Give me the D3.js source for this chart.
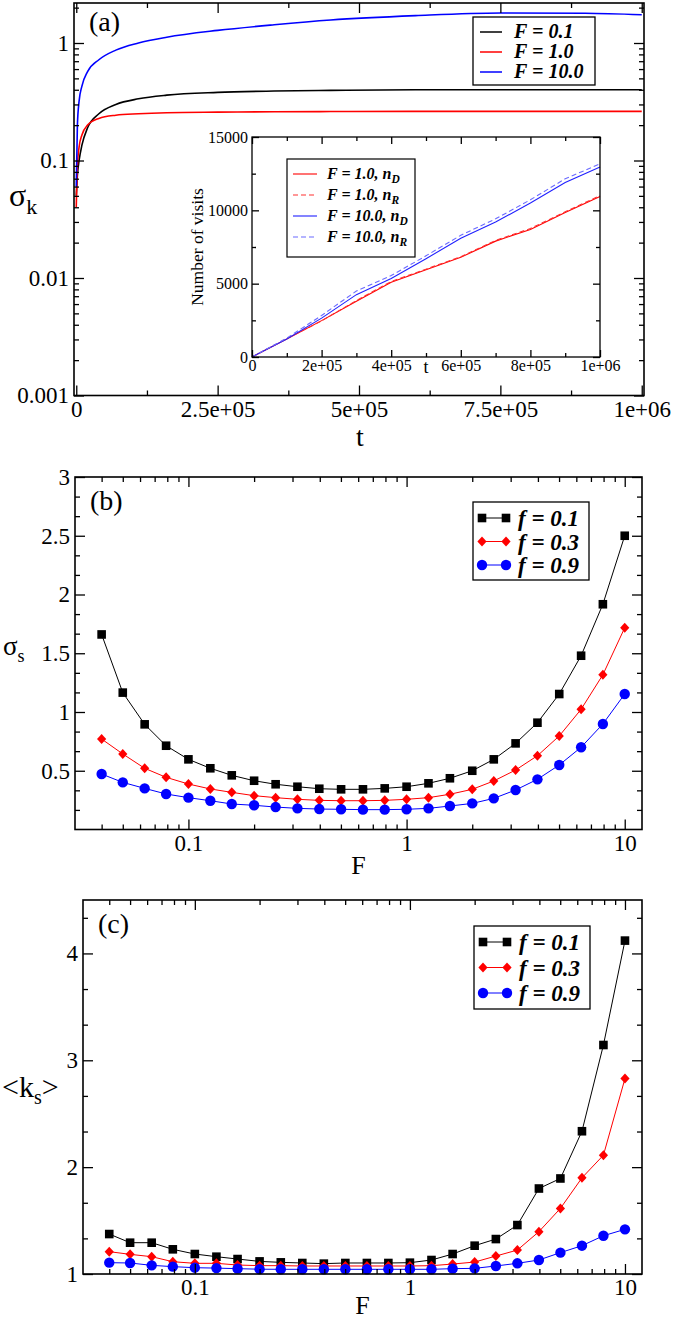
<!DOCTYPE html>
<html>
<head>
<meta charset="utf-8">
<script src="https://cdn.jsdelivr.net/npm/d3@7"></script>
<style>
  body { margin: 0; background: #fff; }
  svg text { font-family: "Liberation Serif", Tinos, "Times New Roman", Times, "DejaVu Serif", serif; }
</style>
</head>
<body>
<div id="chart"></div>
<script>
// ---- panel (a): sigma_k vs t ----
var tA = [0, 2e3, 5e3, 1e4, 2e4, 4e4, 7e4, 1.1e5, 1.6e5, 2.5e5, 3.5e5, 4.5e5, 6e5, 7.5e5, 9e5, 1e6];
var sigK01 = [0.05, 0.075, 0.10, 0.135, 0.19, 0.25, 0.30, 0.335, 0.36, 0.38, 0.39, 0.395, 0.40, 0.40, 0.40, 0.40];
var sigK1  = [0.04, 0.09, 0.13, 0.165, 0.20, 0.228, 0.243, 0.25, 0.255, 0.258, 0.26, 0.261, 0.262, 0.262, 0.262, 0.262];
var sigK10 = [0.06, 0.20, 0.32, 0.43, 0.57, 0.72, 0.87, 1.0, 1.12, 1.28, 1.43, 1.57, 1.71, 1.80, 1.79, 1.74];
var aNames = ["F = 0.1", "F = 1.0", "F = 10.0"];
var aColors = ["#000000", "#ff0000", "#0000ff"];
var aXTicks = [0, 2.5e5, 5e5, 7.5e5, 1e6];
var aXLabels = ["0", "2.5e+05", "5e+05", "7.5e+05", "1e+06"];
var aYTicks = [0.001, 0.01, 0.1, 1];
var aYLabels = ["0.001", "0.01", "0.1", "1"];

// ---- inset: number of visits vs t ----
var visT = [0, 1e5, 2e5, 3e5, 4e5, 5e5, 6e5, 7e5, 8e5, 9e5, 1e6];
var visR1D  = [0, 1230, 2480, 3800, 5100, 5950, 6800, 7900, 8700, 9850, 10950];
var visR1R  = [0, 1260, 2460, 3850, 5150, 5990, 6840, 7950, 8760, 9900, 11000];
var visR10D = [0, 1230, 2650, 4250, 5350, 6700, 8100, 9200, 10500, 11900, 12950];
var visR10R = [0, 1290, 2830, 4500, 5550, 6900, 8300, 9420, 10720, 12150, 13170];
var inNames = ["F = 1.0, n", "F = 1.0, n", "F = 10.0, n", "F = 10.0, n"];
var inSubs = ["D", "R", "D", "R"];
var inXTicks = [0, 2e5, 4e5, 6e5, 8e5, 1e6];
var inXLabels = ["0", "2e+05", "4e+05", "6e+05", "8e+05", "1e+06"];
var inYTicks = [0, 5000, 10000, 15000];

// ---- panels (b) and (c): vs F ----
var F = [0.04, 0.05, 0.063, 0.079, 0.1, 0.126, 0.158, 0.2, 0.251, 0.316, 0.398, 0.501, 0.631,
         0.794, 1, 1.26, 1.58, 2, 2.51, 3.16, 3.98, 5.01, 6.31, 7.94, 10];
var sigS01 = [1.66, 1.165, 0.895, 0.713, 0.597, 0.521, 0.461, 0.415, 0.385, 0.364, 0.347, 0.342, 0.342,
              0.350, 0.364, 0.393, 0.436, 0.500, 0.597, 0.733, 0.909, 1.153, 1.479, 1.917, 2.50];
var sigS03 = [0.770, 0.643, 0.521, 0.444, 0.387, 0.345, 0.316, 0.288, 0.271, 0.257, 0.248, 0.245, 0.245,
              0.248, 0.257, 0.271, 0.300, 0.342, 0.413, 0.506, 0.628, 0.796, 1.023, 1.317, 1.717];
var sigS09 = [0.472, 0.401, 0.350, 0.302, 0.271, 0.245, 0.217, 0.206, 0.191, 0.180, 0.174, 0.172, 0.169,
              0.169, 0.172, 0.180, 0.200, 0.222, 0.265, 0.336, 0.427, 0.549, 0.700, 0.898, 1.153];
var ks01 = [1.374, 1.293, 1.293, 1.231, 1.187, 1.162, 1.140, 1.118, 1.109, 1.103, 1.097, 1.103, 1.103,
            1.103, 1.106, 1.131, 1.187, 1.265, 1.327, 1.458, 1.80, 1.894, 2.336, 3.143, 4.12];
var ks03 = [1.209, 1.184, 1.162, 1.115, 1.100, 1.100, 1.084, 1.078, 1.078, 1.075, 1.075, 1.075, 1.075,
            1.075, 1.075, 1.078, 1.093, 1.112, 1.168, 1.224, 1.396, 1.614, 1.90, 2.112, 2.829];
var ks09 = [1.106, 1.103, 1.081, 1.069, 1.059, 1.055, 1.05, 1.045, 1.044, 1.044, 1.044, 1.044, 1.044,
            1.044, 1.044, 1.044, 1.05, 1.053, 1.075, 1.10, 1.131, 1.20, 1.265, 1.358, 1.418];
var fNames = ["f = 0.1", "f = 0.3", "f = 0.9"];
var fColors = ["#000000", "#ff0000", "#0000ff"];
var fShapes = ["square", "diamond", "circle"];
var FTicks = [0.1, 1, 10];
var FLabels = ["0.1", "1", "10"];

var svg = d3.select("#chart").append("svg")
  .attr("width", 675).attr("height", 1320);

// draws a box with inward ticks on all four sides
function frame(g, x, y, o) {
  var xr = x.range(), yr = y.range();
  var left = xr[0], right = xr[1], bottom = yr[0], top = yr[1];
  function style(sel, size) {
    sel.select(".domain").remove();
    sel.selectAll("line").attr("stroke", "#000").attr("stroke-width", 1.3);
    sel.selectAll("text").attr("font-size", size).attr("fill", "#000");
    sel.attr("font-family", null).attr("font-size", null);
  }
  var fs = o.fontSize;
  // majors
  g.append("g").attr("transform", "translate(0," + bottom + ")")
    .call(d3.axisBottom(x).tickValues(o.xMajor).tickSize(-o.maj).tickPadding(o.xPad)
      .tickFormat(function(d, i) { return o.xLabels[i]; }))
    .call(style, fs);
  g.append("g").attr("transform", "translate(0," + top + ")")
    .call(d3.axisTop(x).tickValues(o.xMajor).tickSize(-o.maj).tickFormat(""))
    .call(style, fs);
  g.append("g").attr("transform", "translate(" + left + ",0)")
    .call(d3.axisLeft(y).tickValues(o.yMajor).tickSize(-o.maj).tickPadding(o.yPad)
      .tickFormat(function(d, i) { return o.yLabels[i]; }))
    .call(style, fs);
  g.append("g").attr("transform", "translate(" + right + ",0)")
    .call(d3.axisRight(y).tickValues(o.yMajor).tickSize(-o.maj).tickFormat(""))
    .call(style, fs);
  // minors
  g.append("g").attr("transform", "translate(0," + bottom + ")")
    .call(d3.axisBottom(x).tickValues(o.xMinor).tickSize(-o.min).tickFormat("")).call(style, fs);
  g.append("g").attr("transform", "translate(0," + top + ")")
    .call(d3.axisTop(x).tickValues(o.xMinor).tickSize(-o.min).tickFormat("")).call(style, fs);
  g.append("g").attr("transform", "translate(" + left + ",0)")
    .call(d3.axisLeft(y).tickValues(o.yMinor).tickSize(-o.min).tickFormat("")).call(style, fs);
  g.append("g").attr("transform", "translate(" + right + ",0)")
    .call(d3.axisRight(y).tickValues(o.yMinor).tickSize(-o.min).tickFormat("")).call(style, fs);
  g.append("rect")
    .attr("x", left).attr("y", top).attr("width", right - left).attr("height", bottom - top)
    .attr("fill", "none").attr("stroke", "#000").attr("stroke-width", o.sw || 1.6);
}

function notIn(arr) {
  return function(v) { return !arr.some(function(a) { return Math.abs(a - v) < 1e-9 * Math.max(1, Math.abs(a)); }); };
}

function marker(sel, shape, color) {
  if (shape === "circle") {
    sel.append("circle").attr("r", 5.2).attr("fill", color);
  } else if (shape === "square") {
    sel.append("rect").attr("x", -4.3).attr("y", -4.3).attr("width", 8.6).attr("height", 8.6).attr("fill", color);
  } else {
    sel.append("path").attr("d", "M0,-5 L4.6,0 L0,5 L-4.6,0 Z").attr("fill", color);
  }
}

// ================= panel (a) =================
var gA = svg.append("g");
var xA = d3.scaleLinear().domain([-4e3, 1.004e6]).range([74, 644]);
var yA = d3.scaleLog().domain([0.001, 2.19]).range([395.5, 3]);

var aSeries = [sigK01, sigK1, sigK10];
var lineA = d3.line().x(function(d) { return xA(d[0]); }).y(function(d) { return yA(d[1]); })
  .curve(d3.curveMonotoneX);
aSeries.forEach(function(s, k) {
  gA.append("path")
    .datum(tA.map(function(t, i) { return [t, s[i]]; }))
    .attr("d", lineA).attr("fill", "none").attr("stroke", aColors[k]).attr("stroke-width", 1.6);
});

frame(gA, xA, yA, {
  xMajor: aXTicks, xLabels: aXLabels,
  xMinor: [1.25e5, 3.75e5, 6.25e5, 8.75e5],
  yMajor: aYTicks, yLabels: aYLabels,
  yMinor: yA.ticks().filter(notIn(aYTicks)),
  maj: 10, min: 5, xPad: 5, yPad: 5, fontSize: "23px"
});

gA.append("text").attr("x", 89).attr("y", 31).attr("font-size", "28px").text("(a)");
gA.append("text").attr("x", 360).attr("y", 446).attr("text-anchor", "middle").attr("font-size", "28px").text("t");
var sk = gA.append("text").attr("x", 9).attr("y", 206).attr("font-size", "32px");
sk.append("tspan").text("σ");
sk.append("tspan").attr("dy", 8).attr("font-size", "22px").text("k");

// legend (a)
var legA = gA.append("g");
legA.append("rect").attr("x", 473).attr("y", 17).attr("width", 122).attr("height", 68)
  .attr("fill", "#fff").attr("stroke", "#000").attr("stroke-width", 1.3);
aNames.forEach(function(n, k) {
  var yy = 32 + k * 20;
  legA.append("line").attr("x1", 480).attr("x2", 502).attr("y1", yy).attr("y2", yy)
    .attr("stroke", aColors[k]).attr("stroke-width", 1.5);
  legA.append("text").attr("x", 514).attr("y", yy + 6).attr("font-size", "20px")
    .attr("font-weight", "bold").attr("font-style", "italic").text(n);
});

// ================= inset =================
var gI = svg.append("g");
var xI = d3.scaleLinear().domain([0, 1e6]).range([252, 600]);
var yI = d3.scaleLinear().domain([0, 15000]).range([357, 137]);
gI.append("rect").attr("x", 252).attr("y", 137).attr("width", 348).attr("height", 220).attr("fill", "#fff");

var inSeries = [visR1D, visR1R, visR10D, visR10R];
var inColors = ["#ff0000", "#ff3030", "#2020ff", "#6a6aff"];
var inDash = [null, "5,3", null, "5,3"];
var lineI = d3.line().x(function(d) { return xI(d[0]); }).y(function(d) { return yI(d[1]); });
inSeries.forEach(function(s, k) {
  gI.append("path")
    .datum(visT.map(function(t, i) { return [t, s[i]]; }))
    .attr("d", lineI).attr("fill", "none").attr("stroke", inColors[k]).attr("stroke-width", 1.1)
    .attr("stroke-dasharray", inDash[k]);
});

frame(gI, xI, yI, {
  xMajor: inXTicks, xLabels: inXLabels,
  xMinor: [1e5, 3e5, 5e5, 7e5, 9e5],
  yMajor: inYTicks, yLabels: inYTicks.map(String),
  yMinor: [2500, 7500, 12500],
  maj: 7, min: 4, xPad: 3, yPad: 4, fontSize: "16px", sw: 1.3
});
gI.append("text").attr("x", 426).attr("y", 373).attr("text-anchor", "middle").attr("font-size", "18px").text("t");
gI.append("text").attr("transform", "translate(203,247) rotate(-90)").attr("text-anchor", "middle")
  .attr("font-size", "17.5px").text("Number of visits");

var legI = gI.append("g");
legI.append("rect").attr("x", 287).attr("y", 159).attr("width", 128).attr("height", 98)
  .attr("fill", "#fff").attr("stroke", "#000").attr("stroke-width", 1.2);
inNames.forEach(function(n, k) {
  var yy = 174 + k * 21;
  legI.append("line").attr("x1", 293).attr("x2", 317).attr("y1", yy).attr("y2", yy)
    .attr("stroke", inColors[k]).attr("stroke-width", 1.1).attr("stroke-dasharray", inDash[k]);
  var tx = legI.append("text").attr("x", 327).attr("y", yy + 5).attr("font-size", "16px")
    .attr("font-weight", "bold").attr("font-style", "italic");
  tx.append("tspan").text(n);
  tx.append("tspan").attr("dy", 4).attr("font-size", "11.5px").text(inSubs[k]);
});

// ================= panels (b), (c) =================
function fPanel(o) {
  var g = svg.append("g");
  var x = d3.scaleLog().domain([0.0302, 12]).range([o.left, 642]);
  var y = d3.scaleLinear().domain(o.yDomain).range([o.bottom, o.top]);
  var line = d3.line().x(function(d) { return x(d[0]); }).y(function(d) { return y(d[1]); });
  o.series.forEach(function(s, k) {
    var pts = F.map(function(f, i) { return [f, s[i]]; });
    g.append("path").datum(pts).attr("d", line).attr("fill", "none")
      .attr("stroke", fColors[k]).attr("stroke-width", 1);
    g.selectAll(null).data(pts).enter().append("g")
      .attr("transform", function(d) { return "translate(" + x(d[0]) + "," + y(d[1]) + ")"; })
      .each(function() { marker(d3.select(this), fShapes[k], fColors[k]); });
  });
  frame(g, x, y, {
    xMajor: FTicks, xLabels: FLabels,
    xMinor: x.ticks().filter(notIn(FTicks)),
    yMajor: o.yMajor, yLabels: o.yMajor.map(String),
    yMinor: o.yMinor,
    maj: 10, min: 5, xPad: 5, yPad: 5, fontSize: "23px"
  });
  g.append("text").attr("x", o.left + 15).attr("y", o.top + 33).attr("font-size", "28px").text(o.tag);
  g.append("text").attr("x", (o.left + 642) / 2).attr("y", o.bottom + o.fGap).attr("text-anchor", "middle")
    .attr("font-size", "26px").text("F");
  var leg = g.append("g");
  leg.append("rect").attr("x", o.leg[0]).attr("y", o.leg[1]).attr("width", 116).attr("height", o.leg[2])
    .attr("fill", "#fff").attr("stroke", "#000").attr("stroke-width", 1.3);
  fNames.forEach(function(n, k) {
    var yy = o.leg[1] + 16 + k * o.leg[3];
    var x1 = o.leg[0] + 9, x2 = o.leg[0] + 33;
    leg.append("line").attr("x1", x1).attr("x2", x2).attr("y1", yy).attr("y2", yy)
      .attr("stroke", fColors[k]).attr("stroke-width", 1);
    [x1, x2].forEach(function(xx) {
      marker(leg.append("g").attr("transform", "translate(" + xx + "," + yy + ")"), fShapes[k], fColors[k]);
    });
    leg.append("text").attr("x", o.leg[0] + 45).attr("y", yy + 8).attr("font-size", "23px")
      .attr("font-weight", "bold").attr("font-style", "italic").text(n);
  });
  return g;
}

var gB = fPanel({
  left: 75, top: 477, bottom: 829.5, yDomain: [0, 3], fGap: 44,
  yMajor: [0.5, 1, 1.5, 2, 2.5, 3],
  yMinor: d3.range(1, 18).map(function(i) { return i / 6; }).filter(function(v) { return Math.abs(v * 2 - Math.round(v * 2)) > 1e-6; }),
  series: [sigS01, sigS03, sigS09], tag: "(b)", leg: [473, 502, 78, 23.5]
});
var ss = gB.append("text").attr("x", 3).attr("y", 655).attr("font-size", "27px");
ss.append("tspan").text("σ");
ss.append("tspan").attr("dy", 7).attr("font-size", "18px").text("s");

var gC = fPanel({
  left: 83, top: 900, bottom: 1274, yDomain: [1, 4.5], fGap: 40,
  yMajor: [1, 2, 3, 4],
  yMinor: [4 / 3, 5 / 3, 7 / 3, 8 / 3, 10 / 3, 11 / 3, 13 / 3],
  series: [ks01, ks03, ks09], tag: "(c)", leg: [474, 926, 83, 25.5]
});
var kk = gC.append("text").attr("x", 2).attr("y", 1097).attr("font-size", "30px");
kk.append("tspan").text("<k");
kk.append("tspan").attr("dy", 7).attr("font-size", "20px").text("s");
kk.append("tspan").attr("dy", -7).text(">");
</script>
</body>
</html>
